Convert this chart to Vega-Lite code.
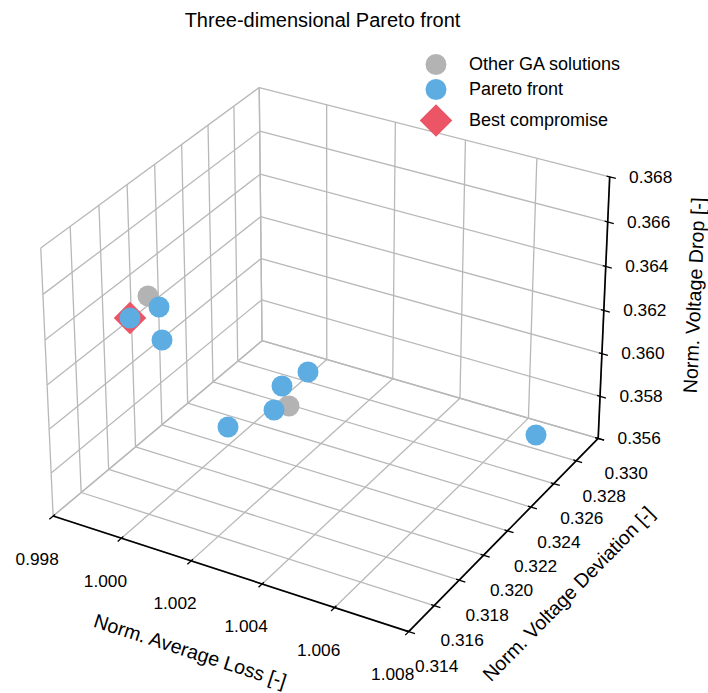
{
  "$schema": "https://vega.github.io/schema/vega-lite/v6.json",
  "width": 708,
  "height": 693,
  "autosize": {"type": "none"},
  "padding": 0,
  "background": "white",
  "title": {"text": "Three-dimensional Pareto front", "anchor": "middle", "frame": "group", "orient": "top", "offset": -27, "baseline": "alphabetic", "dx": -31.5, "dy": 20, "fontSize": 20, "fontWeight": "normal", "font": "Liberation Sans", "color": "#000000"},
  "config": {
    "view": {"stroke": null},
    "font": "Liberation Sans",
    "legend": {"orient": "none", "legendX": 425.5, "legendY": 54, "labelFontSize": 18, "labelFont": "Liberation Sans", "labelColor": "#000000", "symbolSize": 441, "labelOffset": 22.5, "padding": 0, "rowPadding": 4, "symbolStrokeWidth": 0, "symbolOpacity": 1}
  },
  "datasets": {
    "points": [
      {"type": "Other GA solutions", "loss": 0.99900, "dev": 0.318817, "drop": 0.364046},
      {"type": "Other GA solutions", "loss": 1.001630, "dev": 0.322465, "drop": 0.358400},
      {"type": "Pareto front", "loss": 0.99950, "dev": 0.318356, "drop": 0.364002},
      {"type": "Pareto front", "loss": 0.99850, "dev": 0.318701, "drop": 0.362888},
      {"type": "Pareto front", "loss": 0.99920, "dev": 0.319241, "drop": 0.361943},
      {"type": "Pareto front", "loss": 1.001839, "dev": 0.323411, "drop": 0.359600},
      {"type": "Pareto front", "loss": 1.001496, "dev": 0.322289, "drop": 0.359360},
      {"type": "Pareto front", "loss": 1.001404, "dev": 0.321896, "drop": 0.358400},
      {"type": "Pareto front", "loss": 1.000507, "dev": 0.320694, "drop": 0.357800},
      {"type": "Pareto front", "loss": 1.006820, "dev": 0.328085, "drop": 0.356600},
      {"type": "Best compromise", "loss": 0.99850, "dev": 0.318701, "drop": 0.362888}
    ],
    "ticks": [
      {"axis": "x", "value": 0.998}, {"axis": "x", "value": 1.000}, {"axis": "x", "value": 1.002},
      {"axis": "x", "value": 1.004}, {"axis": "x", "value": 1.006}, {"axis": "x", "value": 1.008},
      {"axis": "y", "value": 0.314}, {"axis": "y", "value": 0.316}, {"axis": "y", "value": 0.318},
      {"axis": "y", "value": 0.320}, {"axis": "y", "value": 0.322}, {"axis": "y", "value": 0.324},
      {"axis": "y", "value": 0.326}, {"axis": "y", "value": 0.328}, {"axis": "y", "value": 0.330},
      {"axis": "z", "value": 0.356}, {"axis": "z", "value": 0.358}, {"axis": "z", "value": 0.360},
      {"axis": "z", "value": 0.362}, {"axis": "z", "value": 0.364}, {"axis": "z", "value": 0.366},
      {"axis": "z", "value": 0.368}
    ],
    "axes": [
      {"axis": "x", "title": "Norm. Average Loss [-]"},
      {"axis": "y", "title": "Norm. Voltage Deviation [-]"},
      {"axis": "z", "title": "Norm. Voltage Drop [-]"}
    ]
  },
  "layer": [
    {
      "data": {"name": "ticks"},
      "transform": [
        {"calculate": "datum.axis=='x' ? (datum.value-0.998)/0.01 : datum.axis=='y' ? (datum.value-0.314)/0.016 : (datum.value-0.356)/0.012", "as": "tn"},
        {"calculate": "(datum.axis=='x' ? datum.tn : datum.axis=='y' ? 1 : 0) - 0.5", "as": "A1"},
        {"calculate": "(datum.axis=='y' ? datum.tn : 0) - 0.5", "as": "B1"},
        {"calculate": "(datum.axis=='z' ? datum.tn : 0) - 0.5", "as": "C1"},
        {"calculate": "(datum.axis=='x' ? datum.tn : 0) - 0.5", "as": "A2"},
        {"calculate": "(datum.axis=='y' ? datum.tn : 1) - 0.5", "as": "B2"},
        {"calculate": "(datum.axis=='z' ? datum.tn : 0) - 0.5", "as": "C2"},
        {"calculate": "10-0.494872*datum.A1+0.857143*datum.B1-0.428571*datum.C1", "as": "D1"},
        {"calculate": "10-0.494872*datum.A2+0.857143*datum.B2-0.428571*datum.C2", "as": "D2"},
        {"calculate": "(0.989743*datum.A1+0.571429*datum.B1)/datum.D1", "as": "X1"},
        {"calculate": "(-0.285714*datum.A1+0.494872*datum.B1+0.742307*datum.C1)/datum.D1", "as": "Y1"},
        {"calculate": "(0.989743*datum.A2+0.571429*datum.B2)/datum.D2", "as": "X2"},
        {"calculate": "(-0.285714*datum.A2+0.494872*datum.B2+0.742307*datum.C2)/datum.D2", "as": "Y2"}
      ],
      "mark": {"type": "rule", "color": "#b8b8b8", "strokeWidth": 1.3},
      "encoding": {
        "x": {"field": "X1", "type": "quantitative", "scale": {"domain": [-0.092707, 0.105891], "nice": false, "zero": false}, "axis": null},
        "y": {"field": "Y1", "type": "quantitative", "scale": {"domain": [-0.097055, 0.097335], "nice": false, "zero": false}, "axis": null},
        "x2": {"field": "X2"},
        "y2": {"field": "Y2"}
      }
    },
    {
      "data": {"name": "ticks"},
      "transform": [
        {"calculate": "datum.axis=='x' ? (datum.value-0.998)/0.01 : datum.axis=='y' ? (datum.value-0.314)/0.016 : (datum.value-0.356)/0.012", "as": "tn"},
        {"calculate": "(datum.axis=='x' ? datum.tn : 0) - 0.5", "as": "A1"},
        {"calculate": "(datum.axis=='y' ? datum.tn : 1) - 0.5", "as": "B1"},
        {"calculate": "(datum.axis=='z' ? datum.tn : 0) - 0.5", "as": "C1"},
        {"calculate": "(datum.axis=='x' ? datum.tn : datum.axis=='y' ? 0 : 1) - 0.5", "as": "A2"},
        {"calculate": "(datum.axis=='y' ? datum.tn : 1) - 0.5", "as": "B2"},
        {"calculate": "(datum.axis=='z' ? datum.tn : 1) - 0.5", "as": "C2"},
        {"calculate": "10-0.494872*datum.A1+0.857143*datum.B1-0.428571*datum.C1", "as": "D1"},
        {"calculate": "10-0.494872*datum.A2+0.857143*datum.B2-0.428571*datum.C2", "as": "D2"},
        {"calculate": "(0.989743*datum.A1+0.571429*datum.B1)/datum.D1", "as": "X1"},
        {"calculate": "(-0.285714*datum.A1+0.494872*datum.B1+0.742307*datum.C1)/datum.D1", "as": "Y1"},
        {"calculate": "(0.989743*datum.A2+0.571429*datum.B2)/datum.D2", "as": "X2"},
        {"calculate": "(-0.285714*datum.A2+0.494872*datum.B2+0.742307*datum.C2)/datum.D2", "as": "Y2"}
      ],
      "mark": {"type": "rule", "color": "#b8b8b8", "strokeWidth": 1.3},
      "encoding": {
        "x": {"field": "X1", "type": "quantitative", "scale": {"domain": [-0.092707, 0.105891], "nice": false, "zero": false}, "axis": null},
        "y": {"field": "Y1", "type": "quantitative", "scale": {"domain": [-0.097055, 0.097335], "nice": false, "zero": false}, "axis": null},
        "x2": {"field": "X2"},
        "y2": {"field": "Y2"}
      }
    },
    {
      "data": {"name": "axes"},
      "transform": [
        {"calculate": "(datum.axis=='x' ? 0 : 1) - 0.5", "as": "A1"},
        {"calculate": "(datum.axis=='z' ? 1 : 0) - 0.5", "as": "B1"},
        {"calculate": "-0.5", "as": "C1"},
        {"calculate": "0.5", "as": "A2"},
        {"calculate": "(datum.axis=='x' ? 0 : 1) - 0.5", "as": "B2"},
        {"calculate": "(datum.axis=='z' ? 1 : 0) - 0.5", "as": "C2"},
        {"calculate": "10-0.494872*datum.A1+0.857143*datum.B1-0.428571*datum.C1", "as": "D1"},
        {"calculate": "10-0.494872*datum.A2+0.857143*datum.B2-0.428571*datum.C2", "as": "D2"},
        {"calculate": "(0.989743*datum.A1+0.571429*datum.B1)/datum.D1", "as": "X1"},
        {"calculate": "(-0.285714*datum.A1+0.494872*datum.B1+0.742307*datum.C1)/datum.D1", "as": "Y1"},
        {"calculate": "(0.989743*datum.A2+0.571429*datum.B2)/datum.D2", "as": "X2"},
        {"calculate": "(-0.285714*datum.A2+0.494872*datum.B2+0.742307*datum.C2)/datum.D2", "as": "Y2"}
      ],
      "mark": {"type": "rule", "color": "#000000", "strokeWidth": 1.7},
      "encoding": {
        "x": {"field": "X1", "type": "quantitative", "scale": {"domain": [-0.092707, 0.105891], "nice": false, "zero": false}, "axis": null},
        "y": {"field": "Y1", "type": "quantitative", "scale": {"domain": [-0.097055, 0.097335], "nice": false, "zero": false}, "axis": null},
        "x2": {"field": "X2"},
        "y2": {"field": "Y2"}
      }
    },
    {
      "data": {"name": "ticks"},
      "transform": [
        {"calculate": "datum.axis=='x' ? (datum.value-0.998)/0.01 : datum.axis=='y' ? (datum.value-0.314)/0.016 : (datum.value-0.356)/0.012", "as": "tn"},
        {"calculate": "(datum.axis=='x' ? datum.tn : 0.991667) - 0.5", "as": "A1"},
        {"calculate": "(datum.axis=='x' ? 0.008333 : datum.axis=='y' ? datum.tn : 1) - 0.5", "as": "B1"},
        {"calculate": "(datum.axis=='z' ? datum.tn : 0) - 0.5", "as": "C1"},
        {"calculate": "(datum.axis=='x' ? datum.tn : 1.016667) - 0.5", "as": "A2"},
        {"calculate": "(datum.axis=='x' ? -0.016667 : datum.axis=='y' ? datum.tn : 1) - 0.5", "as": "B2"},
        {"calculate": "(datum.axis=='z' ? datum.tn : 0) - 0.5", "as": "C2"},
        {"calculate": "10-0.494872*datum.A1+0.857143*datum.B1-0.428571*datum.C1", "as": "D1"},
        {"calculate": "10-0.494872*datum.A2+0.857143*datum.B2-0.428571*datum.C2", "as": "D2"},
        {"calculate": "(0.989743*datum.A1+0.571429*datum.B1)/datum.D1", "as": "X1"},
        {"calculate": "(-0.285714*datum.A1+0.494872*datum.B1+0.742307*datum.C1)/datum.D1", "as": "Y1"},
        {"calculate": "(0.989743*datum.A2+0.571429*datum.B2)/datum.D2", "as": "X2"},
        {"calculate": "(-0.285714*datum.A2+0.494872*datum.B2+0.742307*datum.C2)/datum.D2", "as": "Y2"}
      ],
      "mark": {"type": "rule", "color": "#000000", "strokeWidth": 1.3},
      "encoding": {
        "x": {"field": "X1", "type": "quantitative", "scale": {"domain": [-0.092707, 0.105891], "nice": false, "zero": false}, "axis": null},
        "y": {"field": "Y1", "type": "quantitative", "scale": {"domain": [-0.097055, 0.097335], "nice": false, "zero": false}, "axis": null},
        "x2": {"field": "X2"},
        "y2": {"field": "Y2"}
      }
    },
    {
      "data": {"name": "ticks"},
      "transform": [
        {"filter": "datum.axis=='x'"},
        {"calculate": "(datum.value-0.998)/0.01 - 0.5", "as": "A"},
        {"calculate": "-0.5", "as": "B"},
        {"calculate": "-0.5", "as": "C"},
        {"calculate": "10-0.494872*datum.A+0.857143*datum.B-0.428571*datum.C", "as": "D"},
        {"calculate": "(0.989743*datum.A+0.571429*datum.B)/datum.D", "as": "X"},
        {"calculate": "(-0.285714*datum.A+0.494872*datum.B+0.742307*datum.C)/datum.D", "as": "Y"}
      ],
      "mark": {"type": "text", "align": "center", "baseline": "middle", "dx": -16, "dy": 43.5, "fontSize": 17.3, "font": "Liberation Sans", "color": "#000000"},
      "encoding": {
        "x": {"field": "X", "type": "quantitative", "scale": {"domain": [-0.092707, 0.105891], "nice": false, "zero": false}, "axis": null},
        "y": {"field": "Y", "type": "quantitative", "scale": {"domain": [-0.097055, 0.097335], "nice": false, "zero": false}, "axis": null},
        "text": {"field": "value", "type": "quantitative", "format": ".3f"}
      }
    },
    {
      "data": {"name": "ticks"},
      "transform": [
        {"filter": "datum.axis=='y'"},
        {"calculate": "0.5", "as": "A"},
        {"calculate": "(datum.value-0.314)/0.016 - 0.5", "as": "B"},
        {"calculate": "-0.5", "as": "C"},
        {"calculate": "10-0.494872*datum.A+0.857143*datum.B-0.428571*datum.C", "as": "D"},
        {"calculate": "(0.989743*datum.A+0.571429*datum.B)/datum.D", "as": "X"},
        {"calculate": "(-0.285714*datum.A+0.494872*datum.B+0.742307*datum.C)/datum.D", "as": "Y"}
      ],
      "mark": {"type": "text", "align": "center", "baseline": "middle", "dx": 28, "dy": 35.7, "fontSize": 17.3, "font": "Liberation Sans", "color": "#000000"},
      "encoding": {
        "x": {"field": "X", "type": "quantitative", "scale": {"domain": [-0.092707, 0.105891], "nice": false, "zero": false}, "axis": null},
        "y": {"field": "Y", "type": "quantitative", "scale": {"domain": [-0.097055, 0.097335], "nice": false, "zero": false}, "axis": null},
        "text": {"field": "value", "type": "quantitative", "format": ".3f"}
      }
    },
    {
      "data": {"name": "ticks"},
      "transform": [
        {"filter": "datum.axis=='z'"},
        {"calculate": "0.5", "as": "A"},
        {"calculate": "0.5", "as": "B"},
        {"calculate": "(datum.value-0.356)/0.012 - 0.5", "as": "C"},
        {"calculate": "10-0.494872*datum.A+0.857143*datum.B-0.428571*datum.C", "as": "D"},
        {"calculate": "(0.989743*datum.A+0.571429*datum.B)/datum.D", "as": "X"},
        {"calculate": "(-0.285714*datum.A+0.494872*datum.B+0.742307*datum.C)/datum.D", "as": "Y"}
      ],
      "mark": {"type": "text", "align": "center", "baseline": "middle", "dx": 41, "dy": 0.7, "fontSize": 17.3, "font": "Liberation Sans", "color": "#000000"},
      "encoding": {
        "x": {"field": "X", "type": "quantitative", "scale": {"domain": [-0.092707, 0.105891], "nice": false, "zero": false}, "axis": null},
        "y": {"field": "Y", "type": "quantitative", "scale": {"domain": [-0.097055, 0.097335], "nice": false, "zero": false}, "axis": null},
        "text": {"field": "value", "type": "quantitative", "format": ".3f"}
      }
    },
    {
      "data": {"name": "axes"},
      "transform": [
        {"filter": "datum.axis=='x'"},
        {"calculate": "0", "as": "A"},
        {"calculate": "-0.5", "as": "B"},
        {"calculate": "-0.5", "as": "C"},
        {"calculate": "10-0.494872*datum.A+0.857143*datum.B-0.428571*datum.C", "as": "D"},
        {"calculate": "(0.989743*datum.A+0.571429*datum.B)/datum.D", "as": "X"},
        {"calculate": "(-0.285714*datum.A+0.494872*datum.B+0.742307*datum.C)/datum.D", "as": "Y"}
      ],
      "mark": {"type": "text", "align": "center", "baseline": "middle", "angle": 17.9, "dx": -10.3, "dy": 86.7, "fontSize": 19.7, "font": "Liberation Sans", "color": "#000000"},
      "encoding": {
        "x": {"field": "X", "type": "quantitative", "scale": {"domain": [-0.092707, 0.105891], "nice": false, "zero": false}, "axis": null},
        "y": {"field": "Y", "type": "quantitative", "scale": {"domain": [-0.097055, 0.097335], "nice": false, "zero": false}, "axis": null},
        "text": {"field": "title", "type": "nominal"}
      }
    },
    {
      "data": {"name": "axes"},
      "transform": [
        {"filter": "datum.axis=='y'"},
        {"calculate": "0.5", "as": "A"},
        {"calculate": "0", "as": "B"},
        {"calculate": "-0.5", "as": "C"},
        {"calculate": "10-0.494872*datum.A+0.857143*datum.B-0.428571*datum.C", "as": "D"},
        {"calculate": "(0.989743*datum.A+0.571429*datum.B)/datum.D", "as": "X"},
        {"calculate": "(-0.285714*datum.A+0.494872*datum.B+0.742307*datum.C)/datum.D", "as": "Y"}
      ],
      "mark": {"type": "text", "align": "center", "baseline": "middle", "angle": -45.55, "dx": -2.3, "dy": 88.4, "fontSize": 19.7, "font": "Liberation Sans", "color": "#000000"},
      "encoding": {
        "x": {"field": "X", "type": "quantitative", "scale": {"domain": [-0.092707, 0.105891], "nice": false, "zero": false}, "axis": null},
        "y": {"field": "Y", "type": "quantitative", "scale": {"domain": [-0.097055, 0.097335], "nice": false, "zero": false}, "axis": null},
        "text": {"field": "title", "type": "nominal"}
      }
    },
    {
      "data": {"name": "axes"},
      "transform": [
        {"filter": "datum.axis=='z'"},
        {"calculate": "0.5", "as": "A"},
        {"calculate": "0.5", "as": "B"},
        {"calculate": "0", "as": "C"},
        {"calculate": "10-0.494872*datum.A+0.857143*datum.B-0.428571*datum.C", "as": "D"},
        {"calculate": "(0.989743*datum.A+0.571429*datum.B)/datum.D", "as": "X"},
        {"calculate": "(-0.285714*datum.A+0.494872*datum.B+0.742307*datum.C)/datum.D", "as": "Y"}
      ],
      "mark": {"type": "text", "align": "center", "baseline": "middle", "angle": -87.5, "dx": 18.9, "dy": 90.5, "fontSize": 19.7, "font": "Liberation Sans", "color": "#000000"},
      "encoding": {
        "x": {"field": "X", "type": "quantitative", "scale": {"domain": [-0.092707, 0.105891], "nice": false, "zero": false}, "axis": null},
        "y": {"field": "Y", "type": "quantitative", "scale": {"domain": [-0.097055, 0.097335], "nice": false, "zero": false}, "axis": null},
        "text": {"field": "title", "type": "nominal"}
      }
    },
    {
      "data": {"name": "points"},
      "transform": [
        {"filter": "datum.type=='Other GA solutions'"},
        {"calculate": "(datum.loss-0.998)/0.01-0.5", "as": "A"},
        {"calculate": "(datum.dev-0.314)/0.016-0.5", "as": "B"},
        {"calculate": "(datum.drop-0.356)/0.012-0.5", "as": "C"},
        {"calculate": "10-0.494872*datum.A+0.857143*datum.B-0.428571*datum.C", "as": "D"},
        {"calculate": "(0.989743*datum.A+0.571429*datum.B)/datum.D", "as": "X"},
        {"calculate": "(-0.285714*datum.A+0.494872*datum.B+0.742307*datum.C)/datum.D", "as": "Y"}
      ],
      "mark": {"type": "point", "filled": true, "opacity": 1, "size": 441, "strokeWidth": 0},
      "encoding": {
        "x": {"field": "X", "type": "quantitative", "scale": {"domain": [-0.092707, 0.105891], "nice": false, "zero": false}, "axis": null},
        "y": {"field": "Y", "type": "quantitative", "scale": {"domain": [-0.097055, 0.097335], "nice": false, "zero": false}, "axis": null},
        "color": {"field": "type", "type": "nominal", "scale": {"domain": ["Other GA solutions", "Pareto front", "Best compromise"], "range": ["#b3b3b3", "#5dade2", "#eb5565"]}, "legend": {"title": null, "encode": {"symbols": {"update": {"size": {"signal": "datum.value === 'Best compromise' ? 1060 : 441"}}}}}},
        "shape": {"field": "type", "type": "nominal", "scale": {"domain": ["Other GA solutions", "Pareto front", "Best compromise"], "range": ["circle", "circle", "diamond"]}, "legend": {"title": null, "encode": {"symbols": {"update": {"size": {"signal": "datum.value === 'Best compromise' ? 1060 : 441"}}}}}}
      }
    },
    {
      "data": {"name": "points"},
      "transform": [
        {"filter": "datum.type=='Best compromise'"},
        {"calculate": "(datum.loss-0.998)/0.01-0.5", "as": "A"},
        {"calculate": "(datum.dev-0.314)/0.016-0.5", "as": "B"},
        {"calculate": "(datum.drop-0.356)/0.012-0.5", "as": "C"},
        {"calculate": "10-0.494872*datum.A+0.857143*datum.B-0.428571*datum.C", "as": "D"},
        {"calculate": "(0.989743*datum.A+0.571429*datum.B)/datum.D", "as": "X"},
        {"calculate": "(-0.285714*datum.A+0.494872*datum.B+0.742307*datum.C)/datum.D", "as": "Y"}
      ],
      "mark": {"type": "point", "filled": true, "opacity": 1, "size": 1060, "strokeWidth": 0},
      "encoding": {
        "x": {"field": "X", "type": "quantitative", "scale": {"domain": [-0.092707, 0.105891], "nice": false, "zero": false}, "axis": null},
        "y": {"field": "Y", "type": "quantitative", "scale": {"domain": [-0.097055, 0.097335], "nice": false, "zero": false}, "axis": null},
        "color": {"field": "type", "type": "nominal", "scale": {"domain": ["Other GA solutions", "Pareto front", "Best compromise"], "range": ["#b3b3b3", "#5dade2", "#eb5565"]}, "legend": {"title": null, "encode": {"symbols": {"update": {"size": {"signal": "datum.value === 'Best compromise' ? 1060 : 441"}}}}}},
        "shape": {"field": "type", "type": "nominal", "scale": {"domain": ["Other GA solutions", "Pareto front", "Best compromise"], "range": ["circle", "circle", "diamond"]}, "legend": {"title": null, "encode": {"symbols": {"update": {"size": {"signal": "datum.value === 'Best compromise' ? 1060 : 441"}}}}}}
      }
    },
    {
      "data": {"name": "points"},
      "transform": [
        {"filter": "datum.type=='Pareto front'"},
        {"calculate": "(datum.loss-0.998)/0.01-0.5", "as": "A"},
        {"calculate": "(datum.dev-0.314)/0.016-0.5", "as": "B"},
        {"calculate": "(datum.drop-0.356)/0.012-0.5", "as": "C"},
        {"calculate": "10-0.494872*datum.A+0.857143*datum.B-0.428571*datum.C", "as": "D"},
        {"calculate": "(0.989743*datum.A+0.571429*datum.B)/datum.D", "as": "X"},
        {"calculate": "(-0.285714*datum.A+0.494872*datum.B+0.742307*datum.C)/datum.D", "as": "Y"}
      ],
      "mark": {"type": "point", "filled": true, "opacity": 1, "size": 441, "strokeWidth": 0},
      "encoding": {
        "x": {"field": "X", "type": "quantitative", "scale": {"domain": [-0.092707, 0.105891], "nice": false, "zero": false}, "axis": null},
        "y": {"field": "Y", "type": "quantitative", "scale": {"domain": [-0.097055, 0.097335], "nice": false, "zero": false}, "axis": null},
        "color": {"field": "type", "type": "nominal", "scale": {"domain": ["Other GA solutions", "Pareto front", "Best compromise"], "range": ["#b3b3b3", "#5dade2", "#eb5565"]}, "legend": {"title": null, "encode": {"symbols": {"update": {"size": {"signal": "datum.value === 'Best compromise' ? 1060 : 441"}}}}}},
        "shape": {"field": "type", "type": "nominal", "scale": {"domain": ["Other GA solutions", "Pareto front", "Best compromise"], "range": ["circle", "circle", "diamond"]}, "legend": {"title": null, "encode": {"symbols": {"update": {"size": {"signal": "datum.value === 'Best compromise' ? 1060 : 441"}}}}}}
      }
    }
  ]
}
